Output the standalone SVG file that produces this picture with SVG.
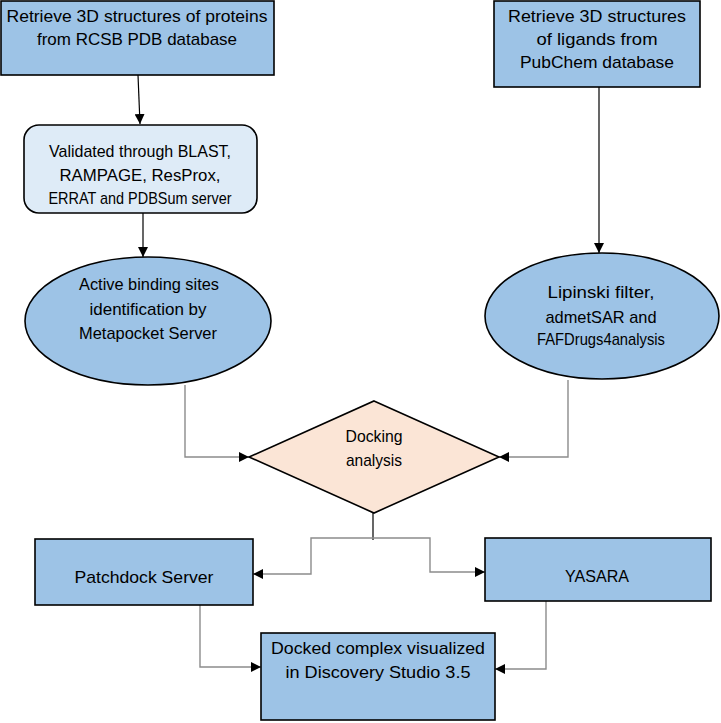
<svg xmlns="http://www.w3.org/2000/svg" width="721" height="723" viewBox="0 0 721 723">
<defs>
<marker id="ah" markerUnits="userSpaceOnUse" markerWidth="10" markerHeight="10" viewBox="0 0 10 10" refX="10" refY="5" orient="auto">
<path d="M0,0 L10,5 L0,10 Z" fill="#000"/>
</marker>
<style>
.t{font-family:"Liberation Sans",Arial,sans-serif;font-size:17px;fill:#000;text-anchor:middle}
.box{fill:#9DC3E6;stroke:#000;stroke-width:1.6}
.lbox{fill:#DEEBF7;stroke:#000;stroke-width:1.6}
.dia{fill:#FBE5D6;stroke:#000;stroke-width:1.6}
.k{fill:none;stroke:#000;stroke-width:1.2}
.g{fill:none;stroke:#8c8c8c;stroke-width:1.4}
</style>
</defs>
<rect width="721" height="723" fill="#fff"/>
<g id="connectors">
<path class="k" d="M138,75 L140,124" marker-end="url(#ah)"/>
<path class="k" d="M143,213 V257" marker-end="url(#ah)"/>
<path class="k" d="M599,87 V253" marker-end="url(#ah)"/>
<path class="g" d="M185,385 V457 H249" marker-end="url(#ah)"/>
<path class="g" d="M568,380 V457 H499" marker-end="url(#ah)"/>
<path class="k" d="M373,513 V540"/>
<path class="g" d="M373,538 H311 V574 H253" marker-end="url(#ah)"/>
<path class="g" d="M373,538 H430 V572 H485" marker-end="url(#ah)"/>
<path class="g" d="M200,605 V667 H261" marker-end="url(#ah)"/>
<path class="g" d="M546,601 V669 H495" marker-end="url(#ah)"/>
</g>
<g id="n1">
<rect class="box" x="1" y="1" width="273" height="74"/>
<text class="t" x="137" y="22" textLength="261" lengthAdjust="spacingAndGlyphs">Retrieve 3D structures of proteins</text>
<text class="t" x="137" y="45" textLength="200" lengthAdjust="spacingAndGlyphs">from RCSB PDB database</text>
</g>
<g id="n2">
<rect class="box" x="494" y="1" width="206" height="86"/>
<text class="t" x="597" y="22" textLength="178" lengthAdjust="spacingAndGlyphs">Retrieve 3D structures</text>
<text class="t" x="597" y="45" textLength="121" lengthAdjust="spacingAndGlyphs">of ligands from</text>
<text class="t" x="597" y="68" textLength="154" lengthAdjust="spacingAndGlyphs">PubChem database</text>
</g>
<g id="n3">
<rect class="lbox" x="24" y="125" width="233" height="88" rx="15" ry="15"/>
<text class="t" x="140" y="157" textLength="182" lengthAdjust="spacingAndGlyphs">Validated through BLAST,</text>
<text class="t" x="140" y="181" textLength="161" lengthAdjust="spacingAndGlyphs">RAMPAGE, ResProx,</text>
<text class="t" x="140" y="204" textLength="183" lengthAdjust="spacingAndGlyphs">ERRAT and PDBSum server</text>
</g>
<g id="n4">
<ellipse class="box" cx="148" cy="321" rx="123" ry="64"/>
<text class="t" x="149" y="290" textLength="140" lengthAdjust="spacingAndGlyphs">Active binding sites</text>
<text class="t" x="148" y="315" textLength="117" lengthAdjust="spacingAndGlyphs">identification by</text>
<text class="t" x="148" y="339" textLength="138" lengthAdjust="spacingAndGlyphs">Metapocket Server</text>
</g>
<g id="n5">
<ellipse class="box" cx="602" cy="316" rx="117" ry="63"/>
<text class="t" x="601" y="298" textLength="107" lengthAdjust="spacingAndGlyphs">Lipinski filter,</text>
<text class="t" x="601" y="323" textLength="111" lengthAdjust="spacingAndGlyphs">admetSAR and</text>
<text class="t" x="601" y="345" textLength="128" lengthAdjust="spacingAndGlyphs">FAFDrugs4analysis</text>
</g>
<g id="n6">
<polygon class="dia" points="374,401 499,457 374,513 249,457"/>
<text class="t" x="374" y="442" textLength="57" lengthAdjust="spacingAndGlyphs">Docking</text>
<text class="t" x="374" y="466" textLength="56" lengthAdjust="spacingAndGlyphs">analysis</text>
</g>
<g id="n7">
<rect class="box" x="35" y="539" width="218" height="66"/>
<text class="t" x="144" y="583" textLength="139" lengthAdjust="spacingAndGlyphs">Patchdock Server</text>
</g>
<g id="n8">
<rect class="box" x="485" y="538" width="226" height="63"/>
<text class="t" x="597" y="582" textLength="64" lengthAdjust="spacingAndGlyphs">YASARA</text>
</g>
<g id="n9">
<rect class="box" x="261" y="633" width="234" height="87"/>
<text class="t" x="378" y="654" textLength="214" lengthAdjust="spacingAndGlyphs">Docked complex visualized</text>
<text class="t" x="378" y="678" textLength="185" lengthAdjust="spacingAndGlyphs">in Discovery Studio 3.5</text>
</g>
</svg>
